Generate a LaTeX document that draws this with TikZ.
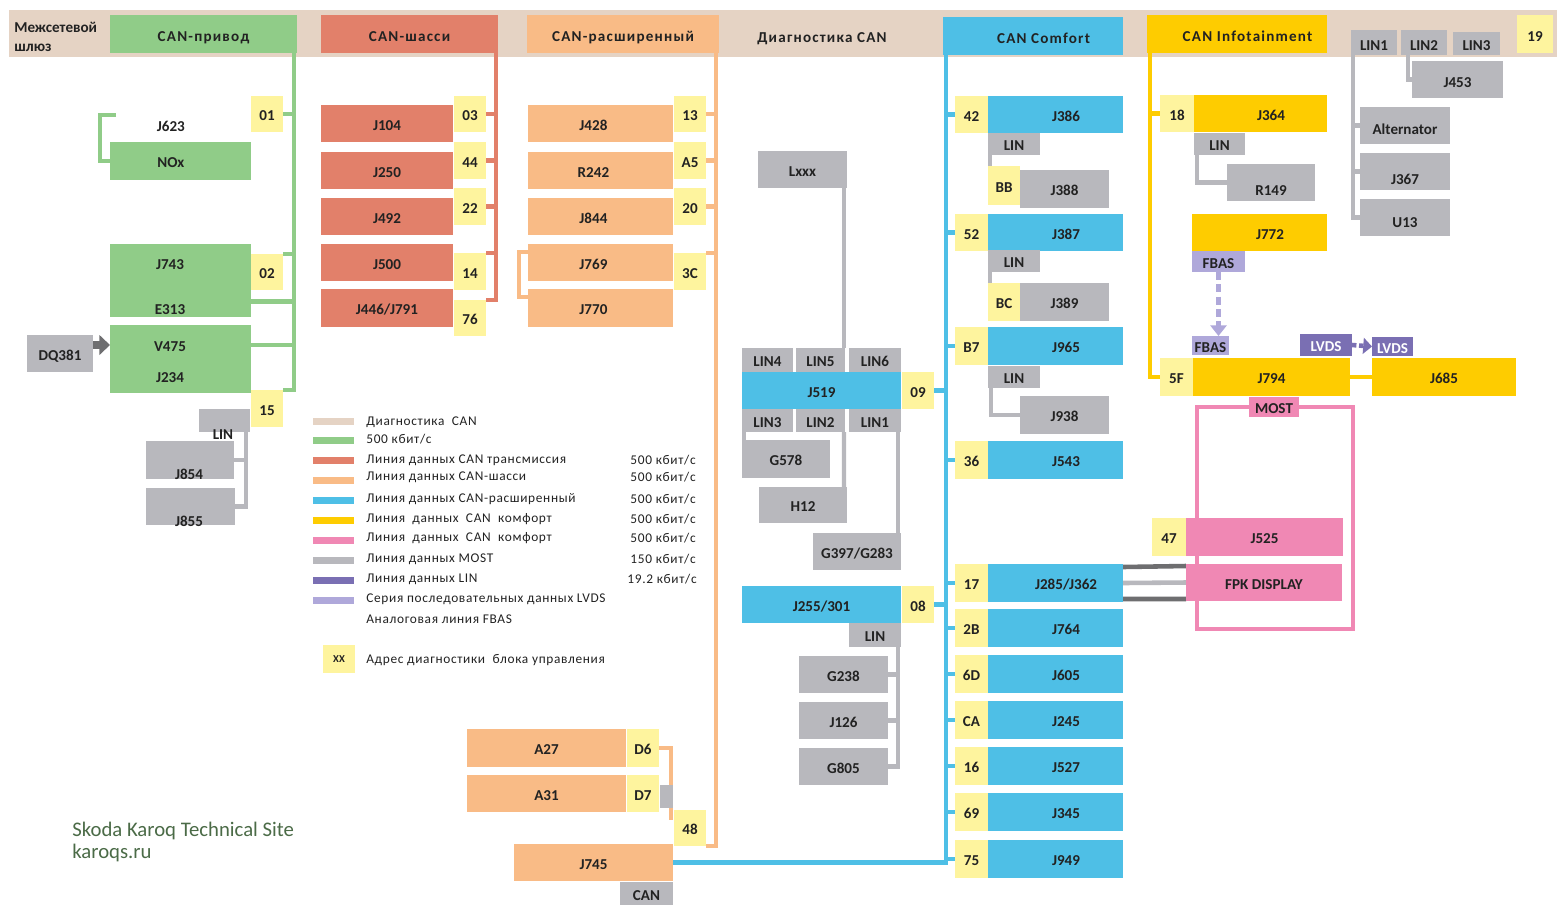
\documentclass[tikz,border=0pt]{standalone}
\usepackage{fontspec}
\setmainfont{Carlito}
\newfontfamily\hdfont{Carlito}[LetterSpace=8]
\newfontfamily\lgfont{Carlito}[LetterSpace=5]
\usetikzlibrary{calc,arrows.meta,backgrounds}
\definecolor{cbar}{HTML}{E5D3C4}
\definecolor{cdrv}{HTML}{90CC88}
\definecolor{cchs}{HTML}{E2806A}
\definecolor{cext}{HTML}{F9BB86}
\definecolor{ccmf}{HTML}{4EBFE6}
\definecolor{cinf}{HTML}{FECC00}
\definecolor{cadr}{HTML}{FEF49E}
\definecolor{cgry}{HTML}{B8B8BD}
\definecolor{cpnk}{HTML}{F088B4}
\definecolor{clvd}{HTML}{7A6FB3}
\definecolor{cfbs}{HTML}{AFA8DA}
\definecolor{cdk}{HTML}{6E6E70}
\definecolor{ctxt}{HTML}{222222}
\definecolor{cwm}{HTML}{4B6B47}
\newcommand{\ecu}[7]{\node[#1, minimum width={(#5-#3)*0.02cm}, minimum height={(#6-#4)*0.02cm}] (#2) at ({(#3+#5)/2},{(#4+#6)/2}) {#7};}
\newcommand{\shr}{\hspace*{12pt}}
\newcommand{\shl}[1]{\hspace*{#1}}

\begin{document}
\begin{tikzpicture}[x=0.02cm, y=-0.02cm,
  blk/.style={inner sep=0pt, outer sep=0pt, text=ctxt, text height=7.4pt, text depth=0pt, font=\bfseries\fontsize{8.6}{10}\selectfont},
  drv/.style={blk, fill=cdrv},
  chs/.style={blk, fill=cchs},
  ext/.style={blk, fill=cext},
  cmf/.style={blk, fill=ccmf},
  inf/.style={blk, fill=cinf},
  adr/.style={blk, fill=cadr},
  gry/.style={blk, fill=cgry},
  pnk/.style={blk, fill=cpnk},
  fbs/.style={blk, fill=cfbs},
  lvd/.style={blk, fill=clvd, text=white},
  dn/.style={text height=#1, text depth=0pt},
  hdr/.style={text=ctxt, inner sep=0pt, text height=10pt, text depth=2pt, font=\hdfont\bfseries\fontsize{8.6}{10.8}\selectfont},
  lgb/.style={inner sep=0pt, outer sep=0pt},
  lgt/.style={inner sep=0pt, text=ctxt, font=\lgfont\fontsize{7.6}{9}\selectfont},
  drvl/.style={draw=cdrv, line width=2.7pt},
  chsl/.style={draw=cchs, line width=2.7pt},
  extl/.style={draw=cext, line width=2.7pt},
  cmfl/.style={draw=ccmf, line width=2.7pt},
  infl/.style={draw=cinf, line width=2.7pt},
  mostl/.style={draw=cpnk, line width=2.6pt},
  gryl/.style={draw=cgry, line width=2.5pt},
  dkl/.style={draw=cdk, line width=2.6pt},
  ltl/.style={draw=cgry, line width=2.6pt},
  dqarr/.style={draw=cdk, line width=4pt, -{Triangle[length=6pt,width=11pt]}},
  fbarr/.style={draw=cfbs, line width=2.4pt, dash pattern=on 4.5pt off 2.5pt, -{Triangle[length=6pt,width=9pt]}},
  lvarr/.style={draw=clvd, line width=2.6pt, dash pattern=on 2.5pt off 1.5pt, -{Triangle[length=5pt,width=9pt]}}]
\useasboundingbox (0,0) rectangle (1561,914);

\node[anchor=west, align=left, inner sep=0pt, text=ctxt, font=\bfseries\fontsize{8.6}{10.8}\selectfont] (gw) at (14,37) {Межсетевой\\шлюз};
\ecu{drv,hdr}{hdrv}{110}{15}{297}{53}{CAN-привод}
\ecu{chs,hdr}{hchs}{321}{15}{498}{53}{CAN-шасси}
\ecu{ext,hdr}{hext}{527}{15}{719}{53}{CAN-расширенный}
\node[hdr] (hdiag) at (822,35) {Диагностика CAN};
\ecu{cmf,hdr}{hcmf}{943}{17}{1123}{55}{\shr CAN Comfort}
\ecu{inf,hdr}{hinf}{1147}{15}{1327}{53}{\shr CAN Infotainment}
\ecu{gry,dn=9pt}{tlin1}{1351}{30}{1397}{55}{LIN1}
\ecu{gry,dn=9pt}{tlin2}{1401}{30}{1447}{55}{LIN2}
\ecu{gry,dn=8pt}{tlin3}{1453}{32}{1500}{55}{LIN3}
\ecu{adr,dn=8.5pt}{b19}{1517}{15}{1553}{53}{19}

\ecu{blk}{j623}{110}{105}{251}{145}{J623\shl{11pt}}
\ecu{drv}{nox}{110}{142}{251}{180}{NOx\shl{11pt}}
\ecu{adr}{b01}{251}{96}{283}{132}{01}
\ecu{drv}{j743}{110}{244}{251}{317}{}
\node[blk] (t743) at (170,263) {J743};
\node[blk] (t313) at (170,308) {E313};
\ecu{adr}{b02}{251}{254}{283}{290}{02}
\ecu{drv}{v475}{110}{325}{251}{393}{}
\node[blk] (t475) at (170,345) {V475};
\node[blk] (t234) at (170,376) {J234};
\ecu{gry}{dq381}{27}{335}{93}{372}{DQ381}
\ecu{adr}{b15}{251}{390}{283}{427}{15}
\ecu{gry}{linl}{199}{409}{250}{432}{}
\ecu{gry}{j854}{146}{441}{234}{479}{}
\ecu{gry}{j855}{146}{488}{235}{525}{}
\node[blk] (tlinl) at (223,433) {LIN};
\node[blk] (t854) at (189,473) {J854};
\node[blk] (t855) at (189,520) {J855};

\ecu{chs}{j104}{321}{105}{453}{142}{J104}
\ecu{chs}{j250}{321}{152}{453}{189}{J250}
\ecu{chs}{j492}{321}{198}{453}{235}{J492}
\ecu{chs}{j500}{321}{244}{453}{281}{J500}
\ecu{chs}{j446}{321}{289}{453}{327}{J446/J791}
\ecu{adr}{b03}{454}{96}{486}{132}{03}
\ecu{adr}{b44}{454}{142}{486}{179}{44}
\ecu{adr}{b22}{454}{188}{486}{225}{22}
\ecu{adr}{b14}{454}{253}{486}{290}{14}
\ecu{adr}{b76}{454}{300}{486}{336}{76}

\ecu{ext}{j428}{528}{105}{673}{142}{J428\shl{8pt}}
\ecu{ext}{r242}{528}{152}{673}{189}{R242\shl{8pt}}
\ecu{ext}{j844}{528}{198}{673}{235}{J844\shl{8pt}}
\ecu{ext}{j769}{528}{244}{673}{281}{J769\shl{8pt}}
\ecu{ext}{j770}{528}{289}{673}{327}{J770\shl{8pt}}
\ecu{adr}{b13}{674}{96}{706}{132}{13}
\ecu{adr}{ba5}{674}{142}{706}{179}{A5}
\ecu{adr}{b20}{674}{188}{706}{225}{20}
\ecu{adr}{b3c}{674}{253}{706}{290}{3C}

\ecu{ext}{a27}{467}{729}{626}{767}{A27}
\ecu{adr}{bd6}{627}{729}{659}{767}{D6}
\ecu{ext}{a31}{467}{775}{626}{812}{A31}
\ecu{adr}{bd7}{627}{775}{659}{812}{D7}
\ecu{gry}{d7c}{660}{785}{673}{808}{}
\ecu{adr}{b48}{674}{810}{706}{846}{48}
\ecu{ext}{j745}{514}{844}{673}{881}{J745}
\ecu{gry}{can745}{620}{882}{673}{905}{CAN}

\ecu{gry}{lxxx}{758}{151}{847}{188}{Lxxx}
\ecu{gry}{lin4}{742}{348}{793}{372}{LIN4}
\ecu{gry}{lin5}{796}{348}{845}{372}{LIN5}
\ecu{gry}{lin6}{849}{348}{901}{372}{LIN6}
\ecu{cmf}{j519}{742}{372}{901}{409}{J519}
\ecu{adr}{b09}{902}{372}{934}{409}{09}
\ecu{gry}{lin3}{742}{409}{793}{432}{LIN3}
\ecu{gry}{lin2}{796}{409}{845}{432}{LIN2}
\ecu{gry}{lin1}{849}{409}{901}{432}{LIN1}
\ecu{gry}{g578}{742}{440}{830}{478}{G578}
\ecu{gry}{h12}{759}{487}{847}{523}{H12}
\ecu{gry}{g397}{813}{533}{901}{570}{G397/G283}
\ecu{cmf}{j255}{742}{586}{901}{623}{J255/301}
\ecu{adr}{b08}{902}{586}{934}{623}{08}
\ecu{gry}{lin255}{849}{623}{901}{647}{LIN}
\ecu{gry}{g238}{799}{656}{888}{693}{G238}
\ecu{gry}{j126}{799}{702}{888}{739}{J126}
\ecu{gry}{g805}{799}{748}{888}{785}{G805}

\ecu{adr}{b42}{955}{96}{988}{133}{42}
\ecu{cmf}{j386}{988}{96}{1123}{133}{\shr J386}
\ecu{gry}{lin42}{988}{133}{1040}{155}{LIN}
\ecu{adr}{bbb}{988}{166}{1020}{205}{BB}
\ecu{gry}{j388}{1020}{170}{1109}{208}{J388}
\ecu{adr}{b52}{955}{214}{988}{251}{52}
\ecu{cmf}{j387}{988}{214}{1123}{251}{\shr J387}
\ecu{gry}{lin52}{988}{250}{1040}{272}{LIN}
\ecu{adr}{bbc}{988}{283}{1020}{321}{BC}
\ecu{gry}{j389}{1020}{283}{1109}{321}{J389}
\ecu{adr}{bb7}{955}{327}{988}{365}{B7}
\ecu{cmf}{j965}{988}{327}{1123}{365}{\shr J965}
\ecu{gry}{lin965}{988}{366}{1040}{388}{LIN}
\ecu{gry}{j938}{1020}{396}{1109}{434}{J938}
\ecu{adr}{b36}{955}{441}{988}{479}{36}
\ecu{cmf}{j543}{988}{441}{1123}{479}{\shr J543}
\ecu{adr}{b17}{955}{564}{988}{602}{17}
\ecu{cmf}{j285}{988}{564}{1123}{602}{\shr J285/J362}
\ecu{adr}{b2b}{955}{609}{988}{647}{2B}
\ecu{cmf}{j764}{988}{609}{1123}{647}{\shr J764}
\ecu{adr}{b6d}{955}{655}{988}{693}{6D}
\ecu{cmf}{j605}{988}{655}{1123}{693}{\shr J605}
\ecu{adr}{bca}{955}{701}{988}{739}{CA}
\ecu{cmf}{j245}{988}{701}{1123}{739}{\shr J245}
\ecu{adr}{b16}{955}{747}{988}{785}{16}
\ecu{cmf}{j527}{988}{747}{1123}{785}{\shr J527}
\ecu{adr}{b69}{955}{793}{988}{831}{69}
\ecu{cmf}{j345}{988}{793}{1123}{831}{\shr J345}
\ecu{adr}{b75}{955}{840}{988}{878}{75}
\ecu{cmf}{j949}{988}{840}{1123}{878}{\shr J949}

\ecu{adr}{b18}{1160}{95}{1194}{132}{18}
\ecu{inf}{j364}{1194}{95}{1327}{132}{\shr J364}
\ecu{gry}{lin364}{1194}{133}{1245}{155}{LIN}
\ecu{gry,dn=15pt}{r149}{1227}{164}{1315}{201}{R149}
\ecu{inf}{j772}{1192}{214}{1327}{251}{\shr J772}
\ecu{fbs}{fbas1}{1192}{251}{1245}{272}{FBAS}
\ecu{fbs}{fbas2}{1192}{336}{1229}{355}{FBAS}
\ecu{lvd}{lvds1}{1300}{334}{1352}{356}{LVDS}
\ecu{lvd}{lvds2}{1372}{337}{1413}{356}{LVDS}
\ecu{adr}{b5f}{1160}{358}{1193}{396}{5F}
\ecu{inf}{j794}{1193}{358}{1350}{396}{J794}
\ecu{inf}{j685}{1372}{358}{1516}{396}{J685}
\ecu{pnk}{most}{1249}{397}{1299}{417}{MOST}
\ecu{adr}{b47}{1152}{518}{1186}{556}{47}
\ecu{pnk}{j525}{1186}{518}{1343}{556}{J525}
\ecu{pnk}{fpk}{1186}{564}{1342}{601}{FPK DISPLAY}

\ecu{gry,dn=9pt}{j453}{1412}{61}{1503}{98}{J453}
\ecu{gry,dn=10pt}{alt}{1360}{107}{1450}{144}{Alternator}
\ecu{gry,dn=15pt}{j367}{1360}{153}{1450}{190}{J367}
\ecu{gry,dn=11pt}{u13}{1360}{199}{1450}{236}{U13}

\ecu{lgb, fill=cbar}{lg1}{313}{418}{354}{425}{}
\ecu{lgb, fill=cdrv}{lg2}{313}{437}{354}{444}{}
\ecu{lgb, fill=cchs}{lg3}{313}{457}{354}{464}{}
\ecu{lgb, fill=cext}{lg4}{313}{477}{354}{484}{}
\ecu{lgb, fill=ccmf}{lg5}{313}{497}{354}{504}{}
\ecu{lgb, fill=cinf}{lg6}{313}{517}{354}{524}{}
\ecu{lgb, fill=cpnk}{lg7}{313}{537}{354}{544}{}
\ecu{lgb, fill=cgry}{lg8}{313}{557}{354}{564}{}
\ecu{lgb, fill=clvd}{lg9}{313}{577}{354}{584}{}
\ecu{lgb, fill=cfbs}{lg10}{313}{597}{354}{604}{}
\node[lgt, anchor=west] (lt1) at (366,422) {Диагностика~~CAN};
\node[lgt, anchor=west] (lt2) at (366,439) {500 кбит/с};
\node[lgt, anchor=west] (lt3) at (366,460) {Линия данных CAN трансмиссия};
\node[lgt, anchor=west] (lt4) at (366,477) {Линия данных CAN-шасси};
\node[lgt, anchor=west] (lt5) at (366,499) {Линия данных CAN-расширенный};
\node[lgt, anchor=west] (lt6) at (366,519) {Линия~ данных~ CAN~ комфорт};
\node[lgt, anchor=west] (lt7) at (366,538) {Линия~ данных~ CAN~ комфорт};
\node[lgt, anchor=west] (lt8) at (366,559) {Линия данных MOST};
\node[lgt, anchor=west] (lt9) at (366,579) {Линия данных LIN};
\node[lgt, anchor=west] (lt10) at (366,599) {Серия последовательных данных LVDS};
\node[lgt, anchor=west] (lt11) at (366,619) {Аналоговая линия FBAS};
\node[lgt, anchor=east] (ls3) at (696,460) {500 кбит/с};
\node[lgt, anchor=east] (ls4) at (696,477) {500 кбит/с};
\node[lgt, anchor=east] (ls5) at (696,499) {500 кбит/с};
\node[lgt, anchor=east] (ls6) at (696,519) {500 кбит/с};
\node[lgt, anchor=east] (ls7) at (696,538) {500 кбит/с};
\node[lgt, anchor=east] (ls8) at (696,559) {150 кбит/с};
\node[lgt, anchor=east] (ls9) at (697,579) {19.2 кбит/с};
\ecu{adr, font=\bfseries\fontsize{6}{7}\selectfont, text height=4.5pt}{lgxx}{323}{645}{355}{673}{XX}
\node[lgt, anchor=west] (lt12) at (366,660) {Адрес диагностики~ блока управления};

\node[anchor=west, align=left, inner sep=0pt, text=cwm, font=\fontsize{11.8}{12.6}\selectfont] (wm) at (72,842) {Skoda Karoq Technical Site\\karoqs.ru};

\begin{pgfonlayer}{background}
\fill[white] (0,0) rectangle (1561,914);
\fill[cbar] (9,10) rectangle (1557,57);
\coordinate (gbus) at (294,53);
\coordinate (rbus) at (496,53);
\coordinate (obus) at (716,53);
\coordinate (bbus) at (946,55);
\coordinate (ybus) at (1150,53);
\draw[drvl] (gbus) |- (b15.north east);
\draw[drvl] (b01.east) -- (b01.east -| gbus);
\draw[drvl] (b02.north east) -- (b02.north east -| gbus);
\draw[drvl] (j743.east |- t313.north) -- (gbus |- t313.north);
\draw[drvl] (v475.east |- t475) -- (gbus |- t475);
\draw[drvl] ($(j623.west)+(6,-10)$) -| ($(nox.west)+(-10,0)$) -- (nox.west);
\draw[dqarr] (dq381.east |- t475) -- (v475.west |- t475);
\draw[chsl] (rbus) |- (b76.north east);
\draw[chsl] (b03.east) -- (b03.east -| rbus);
\draw[chsl] (b44.east) -- (b44.east -| rbus);
\draw[chsl] (b22.east) -- (b22.east -| rbus);
\draw[chsl] (b14.north east) -- (b14.north east -| rbus);
\draw[extl] (obus) |- (b48.south east);
\draw[extl] (b13.east) -- (b13.east -| obus);
\draw[extl] (ba5.east) -- (ba5.east -| obus);
\draw[extl] (b20.east) -- (b20.east -| obus);
\draw[extl] (b3c.north east) -- (b3c.north east -| obus);
\draw[extl] ($(j769.north west)+(0,8)$) -- ($(j769.north west)+(-9,8)$) |- ($(j770.north west)+(0,8)$);
\draw[extl] (bd6.east) -| ($(b48.north west)+(-3,10)$);
\draw[cmfl] (bbus) |- (j745.east);
\draw[cmfl] (b09.east) -- (b09.east -| bbus);
\draw[cmfl] (b08.east) -- (b08.east -| bbus);
\draw[cmfl] (b42.west) -- (b42.west -| bbus);
\draw[cmfl] (b52.west) -- (b52.west -| bbus);
\draw[cmfl] (bb7.west) -- (bb7.west -| bbus);
\draw[cmfl] (b36.west) -- (b36.west -| bbus);
\draw[cmfl] (b17.west) -- (b17.west -| bbus);
\draw[cmfl] (b2b.west) -- (b2b.west -| bbus);
\draw[cmfl] (b6d.west) -- (b6d.west -| bbus);
\draw[cmfl] (bca.west) -- (bca.west -| bbus);
\draw[cmfl] (b16.west) -- (b16.west -| bbus);
\draw[cmfl] (b69.west) -- (b69.west -| bbus);
\draw[cmfl] (b75.west) -- (b75.west -| bbus);
\draw[infl] (ybus) |- (b5f.west);
\draw[infl] (b18.west) -- (b18.west -| ybus);
\draw[infl] (j794.east) -- (j685.west);
\coordinate (mbl) at (1197,629);
\coordinate (mbr) at (1353,629);
\draw[mostl] (most.west) -| (mbl) -- (mbr) |- (most.east);
\draw[dkl] ($(j285.north east)+(0,3)$) -- ($(fpk.north west)+(0,2)$);
\draw[ltl] (j285.east) -- (fpk.west);
\draw[dkl] ($(j285.south east)+(0,-3)$) -- ($(fpk.south west)+(0,-2)$);
\coordinate (lbl) at ($(linl.south east)+(-4,0)$);
\draw[gryl] (lbl) |- (j855.east);
\draw[gryl] (j854.east) -- (j854.east -| lbl);
\draw[gryl] ($(lxxx.south east)+(-3,0)$) -- ($(lin5.north east)+(-1,0)$);
\draw[gryl] ($(lin3.south west)+(2,0)$) -- ($(g578.north west)+(2,0)$);
\draw[gryl] ($(lin2.south east)+(-1,0)$) -- ($(h12.north east)+(-3,0)$);
\draw[gryl] ($(lin1.south east)+(-3,0)$) -- ($(g397.north east)+(-3,0)$);
\coordinate (l255) at ($(lin255.south east)+(-3,0)$);
\draw[gryl] (l255) |- (g805.east);
\draw[gryl] (g238.east) -- (g238.east -| l255);
\draw[gryl] (j126.east) -- (j126.east -| l255);
\draw[gryl] ($(lin42.south west)+(2,0)$) -- ($(bbb.north west)+(2,0)$);
\draw[gryl] ($(lin52.south west)+(2,0)$) -- ($(bbc.north west)+(2,0)$);
\draw[gryl] ($(lin965.south west)+(3,0)$) |- (j938.west);
\draw[gryl] ($(lin364.south west)+(3,0)$) |- (r149.west);
\coordinate (tl1) at ($(tlin1.south west)+(2,0)$);
\draw[gryl] (tl1) |- (u13.west);
\draw[gryl] (alt.west) -- (alt.west -| tl1);
\draw[gryl] (j367.west) -- (j367.west -| tl1);
\draw[gryl] ($(tlin2.south west)+(7,0)$) |- (j453.west);
\end{pgfonlayer}
\draw[fbarr] (fbas1.south) -- (fbas1.south |- fbas2.north);
\draw[lvarr] (lvds1.east) -- (lvds2.west);
\end{tikzpicture}
\end{document}
